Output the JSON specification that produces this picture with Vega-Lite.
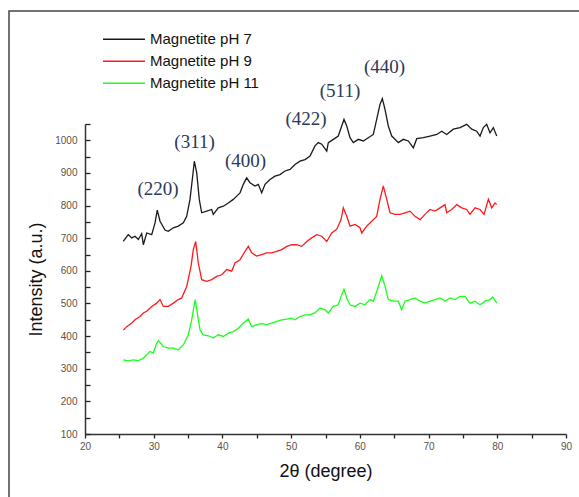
{
  "$schema": "https://vega.github.io/schema/vega-lite/v6.json",
  "width": 481,
  "height": 310,
  "autosize": {"type": "none"},
  "padding": {"left": 85, "top": 124, "right": 13, "bottom": 63},
  "background": "white",
  "config": {
    "view": {"stroke": null},
    "font": "Liberation Sans",
    "axis": {"labelOverlap": false, "ticks": true, "tickColor": "#222222", "tickWidth": 1.3, "domainColor": "#333333", "domainWidth": 1.5, "grid": false, "labelFontSize": 10, "labelColor": "#5a5248", "labelFlush": false, "titleFontSize": 18, "titleFontWeight": "normal", "titleColor": "#111111"},
    "axisX": {"tickSize": 4, "labelPadding": 3, "titlePadding": 11},
    "axisY": {"tickSize": -5, "labelPadding": 13, "titlePadding": 9}
  },
  "datasets": {
    "xrd": [
      {"s": "Magnetite pH 7", "x": 25.57, "y": 690}, {"s": "Magnetite pH 7", "x": 26.07, "y": 705}, {"s": "Magnetite pH 7", "x": 26.30, "y": 711}, {"s": "Magnetite pH 7", "x": 26.80, "y": 701}, {"s": "Magnetite pH 7", "x": 27.28, "y": 706}, {"s": "Magnetite pH 7", "x": 27.76, "y": 696}, {"s": "Magnetite pH 7", "x": 28.25, "y": 714}, {"s": "Magnetite pH 7", "x": 28.49, "y": 680}, {"s": "Magnetite pH 7", "x": 28.98, "y": 716}, {"s": "Magnetite pH 7", "x": 29.71, "y": 711}, {"s": "Magnetite pH 7", "x": 30.19, "y": 747}, {"s": "Magnetite pH 7", "x": 30.52, "y": 786}, {"s": "Magnetite pH 7", "x": 30.92, "y": 752}, {"s": "Magnetite pH 7", "x": 31.64, "y": 725}, {"s": "Magnetite pH 7", "x": 32.12, "y": 721}, {"s": "Magnetite pH 7", "x": 32.85, "y": 732}, {"s": "Magnetite pH 7", "x": 33.58, "y": 737}, {"s": "Magnetite pH 7", "x": 34.31, "y": 747}, {"s": "Magnetite pH 7", "x": 34.80, "y": 767}, {"s": "Magnetite pH 7", "x": 35.28, "y": 819}, {"s": "Magnetite pH 7", "x": 35.67, "y": 890}, {"s": "Magnetite pH 7", "x": 35.91, "y": 936}, {"s": "Magnetite pH 7", "x": 36.26, "y": 900}, {"s": "Magnetite pH 7", "x": 36.63, "y": 819}, {"s": "Magnetite pH 7", "x": 36.98, "y": 778}, {"s": "Magnetite pH 7", "x": 37.71, "y": 783}, {"s": "Magnetite pH 7", "x": 38.44, "y": 788}, {"s": "Magnetite pH 7", "x": 38.67, "y": 773}, {"s": "Magnetite pH 7", "x": 39.40, "y": 793}, {"s": "Magnetite pH 7", "x": 40.13, "y": 798}, {"s": "Magnetite pH 7", "x": 40.86, "y": 808}, {"s": "Magnetite pH 7", "x": 41.58, "y": 819}, {"s": "Magnetite pH 7", "x": 42.08, "y": 829}, {"s": "Magnetite pH 7", "x": 42.56, "y": 839}, {"s": "Magnetite pH 7", "x": 43.04, "y": 865}, {"s": "Magnetite pH 7", "x": 43.53, "y": 885}, {"s": "Magnetite pH 7", "x": 44.01, "y": 870}, {"s": "Magnetite pH 7", "x": 44.74, "y": 860}, {"s": "Magnetite pH 7", "x": 45.22, "y": 865}, {"s": "Magnetite pH 7", "x": 45.72, "y": 839}, {"s": "Magnetite pH 7", "x": 46.20, "y": 865}, {"s": "Magnetite pH 7", "x": 46.92, "y": 880}, {"s": "Magnetite pH 7", "x": 47.65, "y": 890}, {"s": "Magnetite pH 7", "x": 48.38, "y": 895}, {"s": "Magnetite pH 7", "x": 49.11, "y": 906}, {"s": "Magnetite pH 7", "x": 49.84, "y": 911}, {"s": "Magnetite pH 7", "x": 50.56, "y": 926}, {"s": "Magnetite pH 7", "x": 51.29, "y": 936}, {"s": "Magnetite pH 7", "x": 52.02, "y": 941}, {"s": "Magnetite pH 7", "x": 52.75, "y": 952}, {"s": "Magnetite pH 7", "x": 53.47, "y": 983}, {"s": "Magnetite pH 7", "x": 53.95, "y": 993}, {"s": "Magnetite pH 7", "x": 54.45, "y": 988}, {"s": "Magnetite pH 7", "x": 55.18, "y": 967}, {"s": "Magnetite pH 7", "x": 55.41, "y": 993}, {"s": "Magnetite pH 7", "x": 56.14, "y": 1003}, {"s": "Magnetite pH 7", "x": 56.86, "y": 1013}, {"s": "Magnetite pH 7", "x": 57.36, "y": 1044}, {"s": "Magnetite pH 7", "x": 57.69, "y": 1064}, {"s": "Magnetite pH 7", "x": 58.09, "y": 1044}, {"s": "Magnetite pH 7", "x": 58.57, "y": 1008}, {"s": "Magnetite pH 7", "x": 59.05, "y": 993}, {"s": "Magnetite pH 7", "x": 59.78, "y": 1003}, {"s": "Magnetite pH 7", "x": 60.50, "y": 998}, {"s": "Magnetite pH 7", "x": 61.23, "y": 1008}, {"s": "Magnetite pH 7", "x": 61.96, "y": 1018}, {"s": "Magnetite pH 7", "x": 62.45, "y": 1064}, {"s": "Magnetite pH 7", "x": 62.93, "y": 1110}, {"s": "Magnetite pH 7", "x": 63.27, "y": 1128}, {"s": "Magnetite pH 7", "x": 63.66, "y": 1095}, {"s": "Magnetite pH 7", "x": 64.14, "y": 1044}, {"s": "Magnetite pH 7", "x": 64.64, "y": 1013}, {"s": "Magnetite pH 7", "x": 65.12, "y": 1003}, {"s": "Magnetite pH 7", "x": 65.60, "y": 993}, {"s": "Magnetite pH 7", "x": 66.32, "y": 1003}, {"s": "Magnetite pH 7", "x": 67.05, "y": 998}, {"s": "Magnetite pH 7", "x": 67.78, "y": 977}, {"s": "Magnetite pH 7", "x": 68.28, "y": 1005}, {"s": "Magnetite pH 7", "x": 69.24, "y": 1008}, {"s": "Magnetite pH 7", "x": 70.21, "y": 1013}, {"s": "Magnetite pH 7", "x": 71.19, "y": 1018}, {"s": "Magnetite pH 7", "x": 71.91, "y": 1028}, {"s": "Magnetite pH 7", "x": 72.64, "y": 1018}, {"s": "Magnetite pH 7", "x": 73.60, "y": 1034}, {"s": "Magnetite pH 7", "x": 74.58, "y": 1039}, {"s": "Magnetite pH 7", "x": 75.55, "y": 1049}, {"s": "Magnetite pH 7", "x": 76.28, "y": 1034}, {"s": "Magnetite pH 7", "x": 77.00, "y": 1028}, {"s": "Magnetite pH 7", "x": 77.49, "y": 1013}, {"s": "Magnetite pH 7", "x": 77.97, "y": 1039}, {"s": "Magnetite pH 7", "x": 78.46, "y": 1049}, {"s": "Magnetite pH 7", "x": 78.94, "y": 1023}, {"s": "Magnetite pH 7", "x": 79.42, "y": 1039}, {"s": "Magnetite pH 7", "x": 79.92, "y": 1013},

      {"s": "Magnetite pH 9", "x": 25.57, "y": 419}, {"s": "Magnetite pH 9", "x": 26.07, "y": 429}, {"s": "Magnetite pH 9", "x": 26.80, "y": 440}, {"s": "Magnetite pH 9", "x": 27.28, "y": 450}, {"s": "Magnetite pH 9", "x": 28.00, "y": 460}, {"s": "Magnetite pH 9", "x": 28.49, "y": 471}, {"s": "Magnetite pH 9", "x": 28.98, "y": 476}, {"s": "Magnetite pH 9", "x": 29.71, "y": 491}, {"s": "Magnetite pH 9", "x": 30.44, "y": 501}, {"s": "Magnetite pH 9", "x": 30.92, "y": 512}, {"s": "Magnetite pH 9", "x": 31.40, "y": 491}, {"s": "Magnetite pH 9", "x": 32.12, "y": 491}, {"s": "Magnetite pH 9", "x": 32.85, "y": 501}, {"s": "Magnetite pH 9", "x": 33.58, "y": 512}, {"s": "Magnetite pH 9", "x": 34.07, "y": 517}, {"s": "Magnetite pH 9", "x": 34.80, "y": 552}, {"s": "Magnetite pH 9", "x": 35.43, "y": 614}, {"s": "Magnetite pH 9", "x": 35.76, "y": 665}, {"s": "Magnetite pH 9", "x": 36.11, "y": 690}, {"s": "Magnetite pH 9", "x": 36.49, "y": 624}, {"s": "Magnetite pH 9", "x": 36.98, "y": 573}, {"s": "Magnetite pH 9", "x": 37.71, "y": 568}, {"s": "Magnetite pH 9", "x": 38.44, "y": 573}, {"s": "Magnetite pH 9", "x": 39.17, "y": 583}, {"s": "Magnetite pH 9", "x": 39.90, "y": 588}, {"s": "Magnetite pH 9", "x": 40.62, "y": 604}, {"s": "Magnetite pH 9", "x": 41.35, "y": 599}, {"s": "Magnetite pH 9", "x": 41.83, "y": 624}, {"s": "Magnetite pH 9", "x": 42.56, "y": 634}, {"s": "Magnetite pH 9", "x": 43.29, "y": 660}, {"s": "Magnetite pH 9", "x": 43.77, "y": 675}, {"s": "Magnetite pH 9", "x": 44.26, "y": 655}, {"s": "Magnetite pH 9", "x": 44.99, "y": 645}, {"s": "Magnetite pH 9", "x": 45.72, "y": 650}, {"s": "Magnetite pH 9", "x": 46.44, "y": 655}, {"s": "Magnetite pH 9", "x": 47.17, "y": 655}, {"s": "Magnetite pH 9", "x": 47.90, "y": 660}, {"s": "Magnetite pH 9", "x": 48.63, "y": 665}, {"s": "Magnetite pH 9", "x": 49.36, "y": 675}, {"s": "Magnetite pH 9", "x": 50.08, "y": 680}, {"s": "Magnetite pH 9", "x": 50.81, "y": 680}, {"s": "Magnetite pH 9", "x": 51.54, "y": 675}, {"s": "Magnetite pH 9", "x": 52.27, "y": 690}, {"s": "Magnetite pH 9", "x": 52.99, "y": 701}, {"s": "Magnetite pH 9", "x": 53.72, "y": 711}, {"s": "Magnetite pH 9", "x": 54.45, "y": 706}, {"s": "Magnetite pH 9", "x": 55.18, "y": 690}, {"s": "Magnetite pH 9", "x": 55.90, "y": 716}, {"s": "Magnetite pH 9", "x": 56.63, "y": 727}, {"s": "Magnetite pH 9", "x": 57.26, "y": 757}, {"s": "Magnetite pH 9", "x": 57.59, "y": 793}, {"s": "Magnetite pH 9", "x": 58.09, "y": 767}, {"s": "Magnetite pH 9", "x": 58.57, "y": 737}, {"s": "Magnetite pH 9", "x": 59.30, "y": 742}, {"s": "Magnetite pH 9", "x": 60.02, "y": 732}, {"s": "Magnetite pH 9", "x": 60.27, "y": 716}, {"s": "Magnetite pH 9", "x": 61.00, "y": 737}, {"s": "Magnetite pH 9", "x": 61.73, "y": 752}, {"s": "Magnetite pH 9", "x": 62.45, "y": 767}, {"s": "Magnetite pH 9", "x": 62.93, "y": 819}, {"s": "Magnetite pH 9", "x": 63.41, "y": 860}, {"s": "Magnetite pH 9", "x": 63.91, "y": 819}, {"s": "Magnetite pH 9", "x": 64.39, "y": 778}, {"s": "Magnetite pH 9", "x": 65.12, "y": 773}, {"s": "Magnetite pH 9", "x": 65.84, "y": 773}, {"s": "Magnetite pH 9", "x": 66.57, "y": 778}, {"s": "Magnetite pH 9", "x": 67.30, "y": 783}, {"s": "Magnetite pH 9", "x": 68.03, "y": 767}, {"s": "Magnetite pH 9", "x": 68.76, "y": 757}, {"s": "Magnetite pH 9", "x": 69.48, "y": 773}, {"s": "Magnetite pH 9", "x": 70.21, "y": 788}, {"s": "Magnetite pH 9", "x": 70.94, "y": 783}, {"s": "Magnetite pH 9", "x": 71.67, "y": 793}, {"s": "Magnetite pH 9", "x": 72.39, "y": 803}, {"s": "Magnetite pH 9", "x": 72.64, "y": 778}, {"s": "Magnetite pH 9", "x": 73.37, "y": 788}, {"s": "Magnetite pH 9", "x": 74.10, "y": 803}, {"s": "Magnetite pH 9", "x": 74.82, "y": 793}, {"s": "Magnetite pH 9", "x": 75.55, "y": 788}, {"s": "Magnetite pH 9", "x": 76.03, "y": 773}, {"s": "Magnetite pH 9", "x": 76.76, "y": 793}, {"s": "Magnetite pH 9", "x": 77.49, "y": 788}, {"s": "Magnetite pH 9", "x": 78.07, "y": 773}, {"s": "Magnetite pH 9", "x": 78.70, "y": 819}, {"s": "Magnetite pH 9", "x": 79.19, "y": 793}, {"s": "Magnetite pH 9", "x": 79.67, "y": 808}, {"s": "Magnetite pH 9", "x": 79.92, "y": 803},

      {"s": "Magnetite pH 11", "x": 25.57, "y": 327}, {"s": "Magnetite pH 11", "x": 26.30, "y": 324}, {"s": "Magnetite pH 11", "x": 27.03, "y": 327}, {"s": "Magnetite pH 11", "x": 27.76, "y": 325}, {"s": "Magnetite pH 11", "x": 28.49, "y": 332}, {"s": "Magnetite pH 11", "x": 28.98, "y": 343}, {"s": "Magnetite pH 11", "x": 29.46, "y": 353}, {"s": "Magnetite pH 11", "x": 29.94, "y": 348}, {"s": "Magnetite pH 11", "x": 30.44, "y": 378}, {"s": "Magnetite pH 11", "x": 30.67, "y": 386}, {"s": "Magnetite pH 11", "x": 31.40, "y": 368}, {"s": "Magnetite pH 11", "x": 32.12, "y": 363}, {"s": "Magnetite pH 11", "x": 32.85, "y": 363}, {"s": "Magnetite pH 11", "x": 33.58, "y": 358}, {"s": "Magnetite pH 11", "x": 34.31, "y": 373}, {"s": "Magnetite pH 11", "x": 35.03, "y": 404}, {"s": "Magnetite pH 11", "x": 35.53, "y": 450}, {"s": "Magnetite pH 11", "x": 35.86, "y": 491}, {"s": "Magnetite pH 11", "x": 36.05, "y": 512}, {"s": "Magnetite pH 11", "x": 36.34, "y": 471}, {"s": "Magnetite pH 11", "x": 36.74, "y": 419}, {"s": "Magnetite pH 11", "x": 37.22, "y": 404}, {"s": "Magnetite pH 11", "x": 37.94, "y": 401}, {"s": "Magnetite pH 11", "x": 38.67, "y": 394}, {"s": "Magnetite pH 11", "x": 39.40, "y": 404}, {"s": "Magnetite pH 11", "x": 40.13, "y": 399}, {"s": "Magnetite pH 11", "x": 40.86, "y": 409}, {"s": "Magnetite pH 11", "x": 41.58, "y": 414}, {"s": "Magnetite pH 11", "x": 42.31, "y": 424}, {"s": "Magnetite pH 11", "x": 43.04, "y": 440}, {"s": "Magnetite pH 11", "x": 43.77, "y": 452}, {"s": "Magnetite pH 11", "x": 44.26, "y": 429}, {"s": "Magnetite pH 11", "x": 44.99, "y": 435}, {"s": "Magnetite pH 11", "x": 45.72, "y": 438}, {"s": "Magnetite pH 11", "x": 46.44, "y": 435}, {"s": "Magnetite pH 11", "x": 47.17, "y": 440}, {"s": "Magnetite pH 11", "x": 47.90, "y": 445}, {"s": "Magnetite pH 11", "x": 48.63, "y": 450}, {"s": "Magnetite pH 11", "x": 49.36, "y": 452}, {"s": "Magnetite pH 11", "x": 50.08, "y": 455}, {"s": "Magnetite pH 11", "x": 50.56, "y": 450}, {"s": "Magnetite pH 11", "x": 51.29, "y": 460}, {"s": "Magnetite pH 11", "x": 52.02, "y": 465}, {"s": "Magnetite pH 11", "x": 52.75, "y": 465}, {"s": "Magnetite pH 11", "x": 53.47, "y": 471}, {"s": "Magnetite pH 11", "x": 54.20, "y": 486}, {"s": "Magnetite pH 11", "x": 54.93, "y": 481}, {"s": "Magnetite pH 11", "x": 55.41, "y": 471}, {"s": "Magnetite pH 11", "x": 56.14, "y": 491}, {"s": "Magnetite pH 11", "x": 56.86, "y": 496}, {"s": "Magnetite pH 11", "x": 57.36, "y": 527}, {"s": "Magnetite pH 11", "x": 57.69, "y": 544}, {"s": "Magnetite pH 11", "x": 58.09, "y": 517}, {"s": "Magnetite pH 11", "x": 58.57, "y": 496}, {"s": "Magnetite pH 11", "x": 59.30, "y": 491}, {"s": "Magnetite pH 11", "x": 60.02, "y": 501}, {"s": "Magnetite pH 11", "x": 60.75, "y": 496}, {"s": "Magnetite pH 11", "x": 61.48, "y": 512}, {"s": "Magnetite pH 11", "x": 61.96, "y": 507}, {"s": "Magnetite pH 11", "x": 62.54, "y": 542}, {"s": "Magnetite pH 11", "x": 63.18, "y": 585}, {"s": "Magnetite pH 11", "x": 63.66, "y": 553}, {"s": "Magnetite pH 11", "x": 64.14, "y": 512}, {"s": "Magnetite pH 11", "x": 64.87, "y": 507}, {"s": "Magnetite pH 11", "x": 65.60, "y": 507}, {"s": "Magnetite pH 11", "x": 66.09, "y": 481}, {"s": "Magnetite pH 11", "x": 66.57, "y": 507}, {"s": "Magnetite pH 11", "x": 67.30, "y": 512}, {"s": "Magnetite pH 11", "x": 68.03, "y": 517}, {"s": "Magnetite pH 11", "x": 68.76, "y": 507}, {"s": "Magnetite pH 11", "x": 69.48, "y": 501}, {"s": "Magnetite pH 11", "x": 70.21, "y": 507}, {"s": "Magnetite pH 11", "x": 70.94, "y": 512}, {"s": "Magnetite pH 11", "x": 71.67, "y": 517}, {"s": "Magnetite pH 11", "x": 72.39, "y": 507}, {"s": "Magnetite pH 11", "x": 73.12, "y": 517}, {"s": "Magnetite pH 11", "x": 73.85, "y": 512}, {"s": "Magnetite pH 11", "x": 74.58, "y": 522}, {"s": "Magnetite pH 11", "x": 75.30, "y": 522}, {"s": "Magnetite pH 11", "x": 76.03, "y": 501}, {"s": "Magnetite pH 11", "x": 76.76, "y": 507}, {"s": "Magnetite pH 11", "x": 77.49, "y": 496}, {"s": "Magnetite pH 11", "x": 78.22, "y": 507}, {"s": "Magnetite pH 11", "x": 78.94, "y": 512}, {"s": "Magnetite pH 11", "x": 79.33, "y": 520}, {"s": "Magnetite pH 11", "x": 79.92, "y": 501}
    ],
    "peaks": [
      {"label": "(220)", "x": 30.62, "y": 850},
      {"label": "(311)", "x": 35.94, "y": 995},
      {"label": "(400)", "x": 43.36, "y": 938},
      {"label": "(422)", "x": 52.16, "y": 1064},
      {"label": "(511)", "x": 57.11, "y": 1150},
      {"label": "(440)", "x": 63.6, "y": 1224}
    ],
    "legend": [
      {"s": "Magnetite pH 7", "x": 22.62, "x2": 28.73, "tx": 29.46, "y": 1310},
      {"s": "Magnetite pH 9", "x": 22.62, "x2": 28.73, "tx": 29.46, "y": 1242},
      {"s": "Magnetite pH 11", "x": 22.62, "x2": 28.73, "tx": 29.46, "y": 1175}
    ],
    "frame": [
      {"x": 8.94, "x2": 95, "y": 1396, "y2": -170}
    ]
  },
  "layer": [
    {
      "data": {"name": "xrd"},
      "mark": {"type": "line", "strokeWidth": 1.3, "clip": false},
      "encoding": {
        "x": {
          "field": "x", "type": "quantitative",
          "scale": {"domain": [20, 90], "nice": false, "zero": false},
          "axis": {"title": "2θ (degree)", "values": [20, 25, 30, 35, 40, 45, 50, 55, 60, 65, 70, 75, 80, 85, 90], "labelExpr": "datum.value % 10 == 0 ? datum.label : ''"}
        },
        "y": {
          "field": "y", "type": "quantitative",
          "scale": {"domain": [100, 1050], "nice": false, "zero": false},
          "axis": {"title": "Intensity (a.u.)", "values": [100, 150, 200, 250, 300, 350, 400, 450, 500, 550, 600, 650, 700, 750, 800, 850, 900, 950, 1000, 1050], "format": "d", "labelExpr": "datum.value % 100 == 0 ? datum.label : ''"}
        },
        "color": {
          "field": "s", "type": "nominal",
          "scale": {"domain": ["Magnetite pH 7", "Magnetite pH 9", "Magnetite pH 11"], "range": ["#1a1a1a", "#ff1a1a", "#1aff1a"]},
          "legend": null
        },
        "order": {"field": "x", "type": "quantitative"}
      }
    },
    {
      "data": {"name": "frame"},
      "mark": {"type": "rect", "fill": "transparent", "stroke": "#444444", "strokeWidth": 1.5, "clip": false},
      "encoding": {
        "x": {"field": "x", "type": "quantitative", "scale": {"domain": [20, 90]}, "axis": {"title": "2θ (degree)", "values": [20, 25, 30, 35, 40, 45, 50, 55, 60, 65, 70, 75, 80, 85, 90], "labelExpr": "datum.value % 10 == 0 ? datum.label : ''"}},
        "x2": {"field": "x2"},
        "y": {"field": "y", "type": "quantitative", "scale": {"domain": [100, 1050]}, "axis": {"title": "Intensity (a.u.)", "values": [100, 150, 200, 250, 300, 350, 400, 450, 500, 550, 600, 650, 700, 750, 800, 850, 900, 950, 1000, 1050], "format": "d", "labelExpr": "datum.value % 100 == 0 ? datum.label : ''"}},
        "y2": {"field": "y2"}
      }
    },
    {
      "data": {"name": "legend"},
      "mark": {"type": "rule", "strokeWidth": 1.5, "clip": false},
      "encoding": {
        "x": {"field": "x", "type": "quantitative", "scale": {"domain": [20, 90]}, "axis": {"title": "2θ (degree)", "values": [20, 25, 30, 35, 40, 45, 50, 55, 60, 65, 70, 75, 80, 85, 90], "labelExpr": "datum.value % 10 == 0 ? datum.label : ''"}},
        "x2": {"field": "x2"},
        "y": {"field": "y", "type": "quantitative", "scale": {"domain": [100, 1050]}, "axis": {"title": "Intensity (a.u.)", "values": [100, 150, 200, 250, 300, 350, 400, 450, 500, 550, 600, 650, 700, 750, 800, 850, 900, 950, 1000, 1050], "format": "d", "labelExpr": "datum.value % 100 == 0 ? datum.label : ''"}},
        "color": {"field": "s", "type": "nominal", "legend": null}
      }
    },
    {
      "data": {"name": "legend"},
      "mark": {"type": "text", "align": "left", "baseline": "middle", "fontSize": 15, "font": "Liberation Sans", "color": "#111111", "clip": false},
      "encoding": {
        "x": {"field": "tx", "type": "quantitative", "scale": {"domain": [20, 90]}, "axis": {"title": "2θ (degree)", "values": [20, 25, 30, 35, 40, 45, 50, 55, 60, 65, 70, 75, 80, 85, 90], "labelExpr": "datum.value % 10 == 0 ? datum.label : ''"}},
        "y": {"field": "y", "type": "quantitative", "scale": {"domain": [100, 1050]}, "axis": {"title": "Intensity (a.u.)", "values": [100, 150, 200, 250, 300, 350, 400, 450, 500, 550, 600, 650, 700, 750, 800, 850, 900, 950, 1000, 1050], "format": "d", "labelExpr": "datum.value % 100 == 0 ? datum.label : ''"}},
        "text": {"field": "s"}
      }
    },
    {
      "data": {"name": "peaks"},
      "mark": {"type": "text", "align": "center", "baseline": "middle", "fontSize": 19, "font": "Liberation Serif", "color": "#2c3a55", "clip": false},
      "encoding": {
        "x": {"field": "x", "type": "quantitative", "scale": {"domain": [20, 90]}, "axis": {"title": "2θ (degree)", "values": [20, 25, 30, 35, 40, 45, 50, 55, 60, 65, 70, 75, 80, 85, 90], "labelExpr": "datum.value % 10 == 0 ? datum.label : ''"}},
        "y": {"field": "y", "type": "quantitative", "scale": {"domain": [100, 1050]}, "axis": {"title": "Intensity (a.u.)", "values": [100, 150, 200, 250, 300, 350, 400, 450, 500, 550, 600, 650, 700, 750, 800, 850, 900, 950, 1000, 1050], "format": "d", "labelExpr": "datum.value % 100 == 0 ? datum.label : ''"}},
        "text": {"field": "label"}
      }
    }
  ]
}
